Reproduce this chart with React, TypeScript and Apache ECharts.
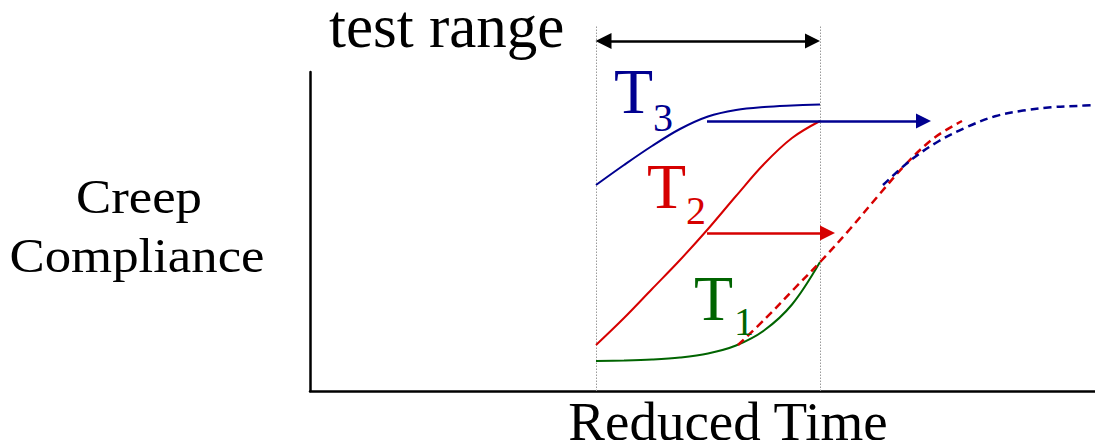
import React, { useEffect, useRef } from "react";
import * as echarts from "echarts";

// Schematic units: 1 unit = 1 px of the figure, x measured from the y-axis, y measured up from the x-axis
const curveX = [286, 314, 342, 370, 398, 426, 454, 482, 510];
const t3Y = [206, 226, 245, 262, 274.5, 281, 284, 285.5, 286.5];
const t2Y = [46, 73, 102, 131, 162, 195, 227, 253, 270];
const t1Y = [30, 30.5, 31.5, 33.5, 37.5, 45.5, 60.5, 86.5, 129];
const t2ShiftedX = [428, 456, 484, 512, 540, 568, 596, 624, 652];
const t2ShiftedY = [46, 73, 102, 131, 162, 195, 227, 253, 270];
const t3ShiftedX = [573, 601, 629, 657, 685, 713, 741, 769, 783];
const t3ShiftedY = [206, 231, 250, 264, 274.7, 280.4, 283.8, 285.2, 286];
const testRangeX = [286, 510];
const testRangeTop = 366;
const testRangeArrowY = 350;
const shiftArrowT3 = { fromX: 397, toX: 621, y: 270 };
const shiftArrowT2 = { fromX: 397, toX: 525, y: 158 };

const X_MAX = 785;
const Y_MAX = 319;
const HEAD_LEN = 15;
const HEAD_W = 16;

const BLUE = "#000090";
const RED = "#d60000";
const GREEN = "#006400";
const FONT = "'Liberation Serif', 'Times New Roman', serif";

const zip = (xs: number[], ys: number[]) => xs.map((x, i) => [x, ys[i]]);

function curve(name: string, xs: number[], ys: number[], color: string, dashed: boolean) {
  return {
    name,
    type: "line",
    data: zip(xs, ys),
    smooth: 0.35,
    showSymbol: false,
    symbol: "none",
    clip: false,
    silent: true,
    lineStyle: { color, width: dashed ? 2.5 : 2, type: dashed ? [8, 5] : "solid" },
    z: 3,
  };
}

function arrow(name: string, x1: number, x2: number, y: number, color: string, both: boolean) {
  const h = HEAD_LEN / 2;
  return {
    name,
    type: "lines",
    coordinateSystem: "cartesian2d",
    clip: false,
    silent: true,
    symbol: [both ? "triangle" : "none", "triangle"],
    symbolSize: [HEAD_W, HEAD_LEN],
    lineStyle: { color, width: 2.5, opacity: 1, type: "solid" },
    data: [{ coords: [[both ? x1 + h : x1, y], [x2 - h, y]] }],
    z: 4,
  };
}

// baseline -> center y for dominant-baseline: central (Liberation Serif)
const cy = (baseline: number, fs: number) => baseline - 0.3375 * fs;

function txt(text: string, x: number, baseline: number, fs: number, fill: string, align: string, scaleX = 1) {
  return {
    type: "text",
    x,
    y: cy(baseline, fs),
    scaleX,
    silent: true,
    z: 10,
    style: {
      text,
      fontSize: fs,
      lineHeight: Math.round(fs * 0.7),
      fontFamily: FONT,
      fill,
      align,
      verticalAlign: "middle",
    },
  };
}

export default function App() {
  const ref = useRef<HTMLDivElement>(null);
  useEffect(() => {
    document.body.style.margin = "0";
    if (!ref.current) return;
    const chart = echarts.init(ref.current, undefined, { renderer: "svg" });
    chart.setOption({
      animation: false,
      backgroundColor: "#ffffff",
      grid: { left: 310, right: 0, top: 72, bottom: 49 },
      xAxis: {
        type: "value",
        min: 0,
        max: X_MAX,
        axisLine: { show: true, onZero: false, lineStyle: { color: "#000", width: 2.5 } },
        axisTick: { show: false },
        axisLabel: { show: false },
        splitLine: { show: false },
      },
      yAxis: {
        type: "value",
        min: 0,
        max: Y_MAX,
        axisLine: { show: true, onZero: false, lineStyle: { color: "#000", width: 2.5 } },
        axisTick: { show: false },
        axisLabel: { show: false },
        splitLine: { show: false },
      },
      series: [
        {
          name: "test range limits",
          type: "lines",
          coordinateSystem: "cartesian2d",
          clip: false,
          silent: true,
          symbol: ["none", "none"],
          lineStyle: { color: "#9a9a9a", width: 1, opacity: 1, type: [1.5, 1.5] },
          data: testRangeX.map((x) => ({ coords: [[x, 0], [x, testRangeTop]] })),
          z: 1,
        },
        curve("T3", curveX, t3Y, BLUE, false),
        curve("T2", curveX, t2Y, RED, false),
        curve("T1", curveX, t1Y, GREEN, false),
        curve("T2 shifted", t2ShiftedX, t2ShiftedY, RED, true),
        curve("T3 shifted", t3ShiftedX, t3ShiftedY, BLUE, true),
        arrow("test range", testRangeX[0], testRangeX[1], testRangeArrowY, "#000", true),
        arrow("shift T3", shiftArrowT3.fromX, shiftArrowT3.toX, shiftArrowT3.y, BLUE, false),
        arrow("shift T2", shiftArrowT2.fromX, shiftArrowT2.toX, shiftArrowT2.y, RED, false),
      ],
      graphic: [
        txt("test range", 329, 47, 61, "#000", "left"),
        txt("T", 614, 113, 64, BLUE, "left"),
        txt("3", 653, 131, 40, BLUE, "left"),
        txt("T", 647, 208, 64, RED, "left"),
        txt("2", 686, 224, 40, RED, "left"),
        txt("T", 694, 320, 64, GREEN, "left"),
        txt("1", 734, 335, 40, GREEN, "left"),
        txt("Creep", 139, 213, 48, "#000", "center", 1.1),
        txt("Compliance", 137, 272, 48, "#000", "center", 1.1),
        txt("Reduced Time", 728, 440, 55, "#000", "center"),
      ],
    });
    return () => chart.dispose();
  }, []);
  return <div ref={ref} style={{ width: 1095, height: 440 }} />;
}
